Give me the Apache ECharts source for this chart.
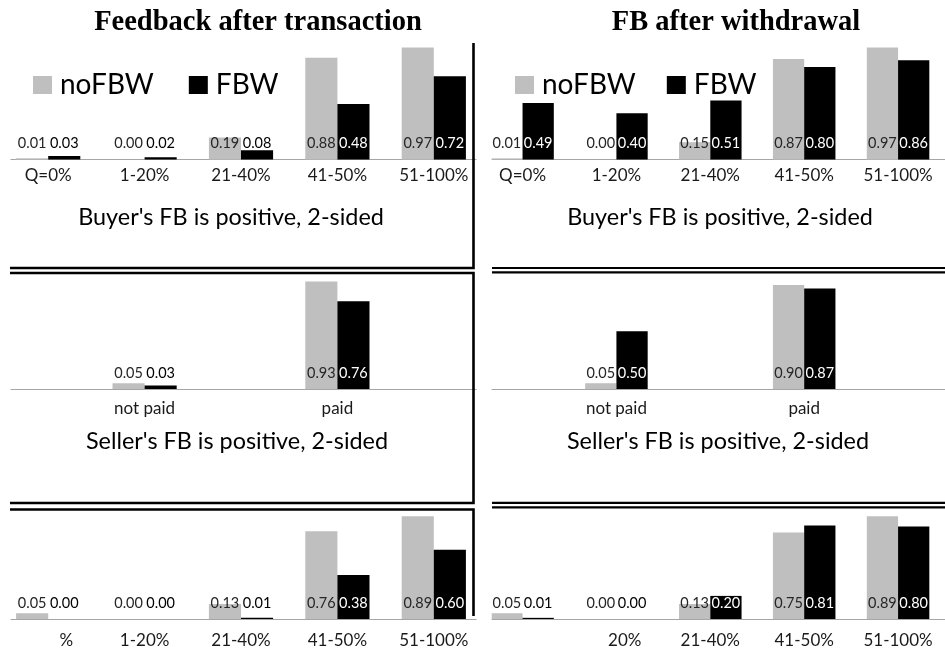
<!DOCTYPE html>
<html>
<head>
<meta charset="utf-8">
<title>Feedback after transaction / FB after withdrawal</title>
<script src="https://cdn.jsdelivr.net/npm/echarts@6/dist/echarts.min.js"></script>
<style>
  html, body { margin: 0; padding: 0; background: #fff; }
  #chart { width: 945px; height: 649px; }
</style>
</head>
<body>
<div id="chart"></div>
<script>
// ---- data -------------------------------------------------------------
const seriesNames = ['noFBW', 'FBW'];

const buyerTicks = ['Q=0%', '1-20%', '21-40%', '41-50%', '51-100%'];
const sellerTicks = ['not paid', 'paid'];
const lowerLeftTicks = ['%', '1-20%', '21-40%', '41-50%', '51-100%'];
const lowerRightTicks = ['', '20%', '21-40%', '41-50%', '51-100%'];

// Buyer's FB is positive
const buyerTxNoFBW = [0.01, 0.00, 0.19, 0.88, 0.97];
const buyerTxFBW   = [0.03, 0.02, 0.08, 0.48, 0.72];
const buyerWdNoFBW = [0.01, 0.00, 0.15, 0.87, 0.97];
const buyerWdFBW   = [0.49, 0.40, 0.51, 0.80, 0.86];

// Seller's FB is positive
const sellerTxNoFBW = [0.05, 0.93];
const sellerTxFBW   = [0.03, 0.76];
const sellerWdNoFBW = [0.05, 0.90];
const sellerWdFBW   = [0.50, 0.87];

// third row
const lowerTxNoFBW = [0.05, 0.00, 0.13, 0.76, 0.89];
const lowerTxFBW   = [0.00, 0.00, 0.01, 0.38, 0.60];
const lowerWdNoFBW = [0.05, 0.00, 0.13, 0.75, 0.89];
const lowerWdFBW   = [0.01, 0.00, 0.20, 0.81, 0.80];

// ---- layout -----------------------------------------------------------
const GRAY = '#bfbfbf';
const BLACK = '#000000';
const SANS = 'Lato';
const SLOTS = 5;                 // every row shares a five-slot category axis
const sellerSlots = [1, 3];      // where the two seller categories sit
const colLeft = [-5, 475.6];
const gridW = 487;
const gridH = 115.5;
const rowBase = [159.5, 389, 619];
const labelMargin = [8, 11, 13];

function spread(values, slots) {
  const out = new Array(SLOTS).fill(null);
  slots.forEach(function (s, i) { out[s] = values[i]; });
  return out;
}
function spreadTicks(ticks, slots) {
  const out = new Array(SLOTS).fill('');
  slots.forEach(function (s, i) { out[s] = ticks[i]; });
  return out;
}

const panels = [
  { col: 0, row: 0, ticks: buyerTicks, no: buyerTxNoFBW, fb: buyerTxFBW },
  { col: 1, row: 0, ticks: buyerTicks, no: buyerWdNoFBW, fb: buyerWdFBW },
  { col: 0, row: 1, ticks: spreadTicks(sellerTicks, sellerSlots),
    no: spread(sellerTxNoFBW, sellerSlots), fb: spread(sellerTxFBW, sellerSlots) },
  { col: 1, row: 1, ticks: spreadTicks(sellerTicks, sellerSlots),
    no: spread(sellerWdNoFBW, sellerSlots), fb: spread(sellerWdFBW, sellerSlots) },
  { col: 0, row: 2, ticks: lowerLeftTicks, no: lowerTxNoFBW, fb: lowerTxFBW },
  { col: 1, row: 2, ticks: lowerRightTicks, no: lowerWdNoFBW, fb: lowerWdFBW }
];

// labels whose leading characters are cut off keep their right edge
const clippedTicks = ['%', '20%'];
const TICK_SIZE = 17;

const grids = [], xAxes = [], yAxes = [], series = [];

panels.forEach(function (p, i) {
  grids.push({
    left: colLeft[p.col], top: rowBase[p.row] - gridH,
    width: gridW, height: gridH, containLabel: false
  });
  xAxes.push({
    type: 'category', gridIndex: i, data: p.ticks,
    axisLine: { show: true, lineStyle: { color: '#a6a6a6', width: 1 } },
    axisTick: { show: false },
    splitLine: { show: false },
    axisLabel: {
      interval: 0, margin: labelMargin[p.row],
      fontFamily: SANS, fontSize: TICK_SIZE, lineHeight: TICK_SIZE, color: '#1a1a1a',
      formatter: function (v) {
        return clippedTicks.indexOf(v) >= 0 ? '{tail|' + v + '}' : v;
      },
      rich: {
        tail: { width: 50, align: 'right', fontFamily: SANS, fontSize: TICK_SIZE,
                lineHeight: TICK_SIZE, color: '#1a1a1a' }
      }
    }
  });
  yAxes.push({ type: 'value', gridIndex: i, min: 0, max: 1, show: false, splitLine: { show: false } });

  [p.no, p.fb].forEach(function (vals, k) {
    series.push({
      name: seriesNames[k], type: 'bar',
      xAxisIndex: i, yAxisIndex: i,
      barGap: '0%', barCategoryGap: '33.4%',
      itemStyle: { color: k === 0 ? GRAY : BLACK },
      label: {
        show: true, position: 'insideBottom', distance: 8.5,
        fontFamily: SANS, fontSize: 14.5, lineHeight: 15,
        formatter: function (d) { return Number(d.value).toFixed(2); }
      },
      emphasis: { disabled: true },
      data: vals.map(function (v) {
        if (v === null) return null;
        const c = k === 0 ? '#262626' : (v >= 0.15 ? '#ffffff' : '#000000');
        return { value: v, label: { color: c } };
      })
    });
  });
});

function legendAt(left, gap) {
  return {
    left: left, top: 71, padding: 0, orient: 'horizontal',
    data: seriesNames, icon: 'rect', itemWidth: 19, itemHeight: 18, itemGap: gap,
    selectedMode: false,
    textStyle: { fontFamily: SANS, fontSize: 28, lineHeight: 28, color: '#000', padding: [0, 0, 0, 3] }
  };
}

// frames around the panels
function pline(points, w) {
  return { type: 'polyline', z: 20, silent: true,
    shape: { points: points }, style: { stroke: '#000', lineWidth: w, fill: null } };
}
function hline(x1, x2, y, w) {
  return { type: 'line', z: 20, silent: true,
    shape: { x1: x1, y1: y, x2: x2, y2: y }, style: { stroke: '#000', lineWidth: w } };
}
function mask(x, w) {
  return { type: 'rect', z: 15, silent: true,
    shape: { x: x, y: 0, width: w, height: 649 }, style: { fill: '#fff' } };
}
function label(text, x, y, font) {
  return { type: 'text', z: 30, silent: true, x: x, y: y,
    style: { text: text, font: font, fill: '#000', textAlign: 'center', textVerticalAlign: 'middle' } };
}

const titleFont = 'bold 28.5px "Liberation Serif", "Times New Roman", serif';
const subFont = '23.4px ' + SANS;

const graphics = [
  mask(0, 10.5),
  mask(476.5, 15.1),
  pline([[10, 268], [473.5, 268], [473.5, 43]], 2.6),
  pline([[10, 273], [473.5, 273], [473.5, 503], [10, 503]], 2.6),
  pline([[10, 509.5], [473.5, 509.5], [473.5, 616]], 2.6),
  hline(492, 945, 268, 2.2),
  hline(492, 945, 272.3, 2.2),
  hline(492, 945, 502.8, 2.2),
  hline(492, 945, 507.3, 2.2),
  label('Feedback after transaction', 258, 23, titleFont),
  label('FB after withdrawal', 736, 23, titleFont),
  label("Buyer's FB is positive, 2-sided", 231, 217, subFont),
  label("Buyer's FB is positive, 2-sided", 720, 217, subFont),
  label("Seller's FB is positive, 2-sided", 237, 441, subFont),
  label("Seller's FB is positive, 2-sided", 718, 441, subFont)
];

const chart = echarts.init(document.getElementById('chart'), null, { renderer: 'canvas' });
chart.setOption({
  animation: false,
  backgroundColor: '#ffffff',
  legend: [legendAt(33, 35), legendAt(515, 31)],
  grid: grids,
  xAxis: xAxes,
  yAxis: yAxes,
  series: series,
  graphic: graphics
});
</script>
</body>
</html>
